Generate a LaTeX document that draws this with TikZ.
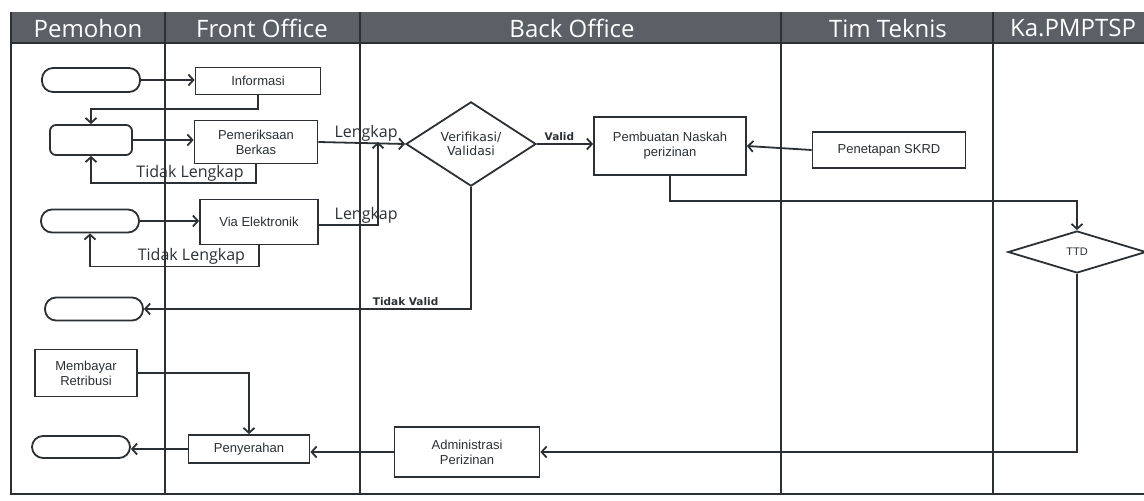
\documentclass[tikz,border=0pt]{standalone}
\usepackage{fontspec}
\setmainfont{Liberation Sans}
\newfontfamily\hdrfont{Open Sans}
\newfontfamily\dvfont{DejaVu Sans}
\usetikzlibrary{shapes.geometric,arrows.meta,calc}
\definecolor{hdrfill}{HTML}{5A6066}
\definecolor{ink}{HTML}{2A3034}
\begin{document}
\begin{tikzpicture}[x=1pt,y=-1pt,
  lane/.style={draw=ink,line width=2.6pt},
  box/.style={draw=ink,line width=1.8pt,rectangle,inner sep=2pt,align=center,
    font=\fontsize{13}{15}\selectfont,text=ink},
  term/.style={draw=ink,line width=1.8pt,rectangle,rounded corners=11pt},
  dia/.style={draw=ink,line width=1.8pt,diamond,inner sep=0pt,align=center,text=ink},
  arr/.style={draw=ink,line width=1.8pt,-{Straight Barb[length=5pt,width=11pt,line width=1.8pt]}},
  lbl/.style={font=\hdrfont\fontsize{16}{16}\selectfont,text=ink,inner sep=1pt},
  dlbl/.style={font=\dvfont\bfseries\fontsize{10.5}{11}\selectfont,text=ink,inner sep=2pt},
  hdr/.style={font=\hdrfont\fontsize{24}{24}\selectfont,text=white},
]
\useasboundingbox (0,0) rectangle (1144,501);
\fill[white] (0,0) rectangle (1144,501);
% swimlane frame
\fill[hdrfill] (11,12) rectangle (1144,43);
\draw[lane] (11,12) -- (11,494) -- (1144,494);
\draw[lane] (11,43) -- (1144,43);
\draw[lane] (165,12) -- (165,494);
\draw[lane] (360,12) -- (360,494);
\draw[lane] (781,12) -- (781,494);
\draw[lane] (993,12) -- (993,494);
\node[hdr] (h1) at (88,28) {Pemohon};
\node[hdr] (h2) at (262,28) {Front Office};
\node[hdr] (h3) at (572,28) {Back Office};
\node[hdr] (h4) at (888,28) {Tim Teknis};
\node[hdr] (h5) at (1073,28) {Ka.PMPTSP};
% Pemohon lane
\node[term,minimum width=98pt,minimum height=24pt] (r1) at (91,80) {};
\node[term,minimum width=82pt,minimum height=30pt,rounded corners=6pt] (r2) at (91,140) {};
\node[term,minimum width=98pt,minimum height=23pt] (r3) at (90,221) {};
\node[term,minimum width=98pt,minimum height=23pt] (r4) at (94,309) {};
\node[box,minimum width=102pt,minimum height=47pt] (bayar) at (86,373) {Membayar\\Retribusi};
\node[term,minimum width=98pt,minimum height=22pt] (r5) at (81,447) {};
% Front Office lane
\node[box,minimum width=125pt,minimum height=27pt] (info) at (258,81) {Informasi};
\node[box,minimum width=123pt,minimum height=43pt] (periksa) at (256,142) {Pemeriksaan\\Berkas};
\node[box,minimum width=118pt,minimum height=45pt] (via) at (259,222) {Via Elektronik};
\node[box,minimum width=121pt,minimum height=28pt] (serah) at (249,449) {Penyerahan};
% Back Office lane
\node[dia,minimum width=130pt,minimum height=62pt,font=\dvfont\fontsize{12.5}{14}\selectfont] (verif) at (471,144) {Verifikasi/\\Validasi};
\node[box,minimum width=152pt,minimum height=58pt] (naskah) at (670,146) {Pembuatan Naskah\\perizinan};
\node[box,minimum width=145pt,minimum height=50pt] (admin) at (467,452) {Administrasi\\Perizinan};
% Tim Teknis lane
\node[box,minimum width=153pt,minimum height=36pt] (skrd) at (889,150) {Penetapan SKRD};
% Ka.PMPTSP lane
\node[dia,minimum width=138pt,minimum height=42pt,font=\fontsize{11}{12}\selectfont] (ttd) at (1077,252) {TTD};
\coordinate (j) at (378,142);
% connectors
\draw[arr] (r1.east) -- (r1.east -| info.west);
\draw[arr] (info.south) |- ([yshift=15pt]r2.north) -- (r2.north);
\draw[arr] (r2.east) -- (r2.east -| periksa.west);
\draw[arr] (periksa.south) |- ([yshift=-27pt]r2.south)
  node[lbl,pos=0.7,above] (tl1) {Tidak Lengkap} -- (r2.south);
\draw[arr] (periksa.east) -- (verif.west) node[lbl,pos=0.55,above] (lk1) {Lengkap};
\draw[arr] (r3.east) -- (r3.east -| via.west);
\draw[arr] (via.south) |- ([yshift=-33pt]r3.south)
  node[lbl,pos=0.7,above] (tl2) {Tidak Lengkap} -- (r3.south);
\draw[arr] ([yshift=-3pt]via.east) -| (j) node[lbl,pos=0.4,above] (lk2) {Lengkap};
\draw[arr] (verif.east) -- (verif.east -| naskah.west) node[dlbl,pos=0.4,above] (vl) {Valid};
\draw[arr] (verif.south) |- (r4.east) node[dlbl,pos=0.6,above] (tv) {Tidak Valid};
\draw[arr] (skrd.west) -- (naskah.east);
\draw[arr] (naskah.south) |- ([yshift=29pt]ttd.north) -- (ttd.north);
\draw[arr] (ttd.south) |- (admin.east);
\draw[arr] (admin.west) -- (admin.west -| serah.east);
\draw[arr] (serah.west) -- (serah.west -| r5.east);
\draw[arr] (bayar.east) -| (serah.north);
\end{tikzpicture}
\end{document}
